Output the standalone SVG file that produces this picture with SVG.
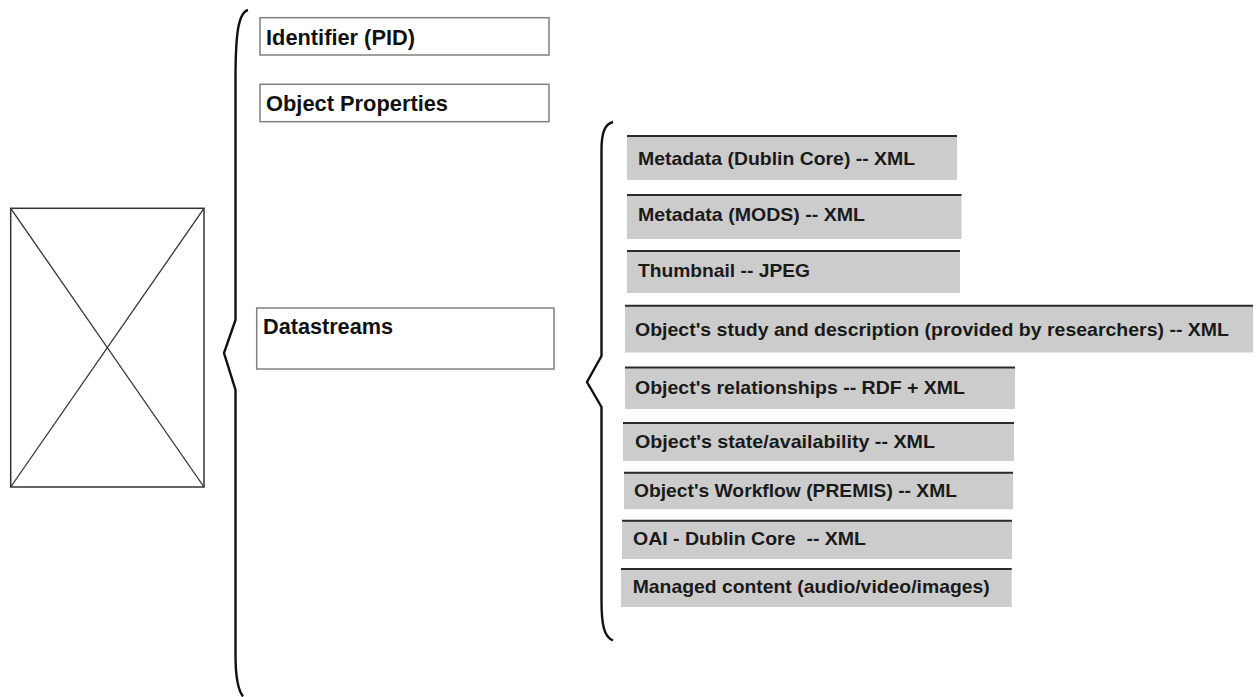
<svg xmlns="http://www.w3.org/2000/svg" width="1260" height="697" viewBox="0 0 1260 697">
<defs>
<style>
.bg{fill:#ffffff}
.brace{fill:none;stroke:#111;stroke-width:2.4;stroke-linejoin:miter}
.ph{fill:#fff;stroke:#333;stroke-width:1.5}
.phx{stroke:#333;stroke-width:1.3}
.box{fill:#fff;stroke:#808080;stroke-width:1.5}
.ds{fill:#cccccc}
.dsl{stroke:#2a2a2a;stroke-width:2}
.t1{font-family:"Liberation Sans",Arial,sans-serif;font-weight:bold;font-size:22.5px;fill:#111}
.t2{font-family:"Liberation Sans",Arial,sans-serif;font-weight:bold;font-size:18.5px;fill:#1a1a1a}
</style>
</defs>
<rect class="bg" x="0" y="0" width="1260" height="697"/>

<g id="placeholder">
<rect class="ph" x="10.7" y="208.3" width="193.3" height="278.7"/>
<line class="phx" x1="10.7" y1="208.3" x2="204" y2="487"/>
<line class="phx" x1="204" y1="208.3" x2="10.7" y2="487"/>
</g>

<g id="connectors">
<path class="brace" d="M248,10 C238,13 235.5,35 235.5,80 L235.5,320 L224,353 L235.5,390 L235.5,655 C235.5,678 238,690 243,696.5"/>
<path class="brace" d="M613,122 C605,124 601.5,132 601.5,150 L601.5,356 L587,382 L601.5,407 L601.5,600 C601.5,625 604,637 613,640.5"/>
</g>

<g id="identifier">
<rect class="box" x="260" y="17.7" width="289" height="37.3"/>
<text class="t1" x="266" y="45" textLength="149" lengthAdjust="spacingAndGlyphs">Identifier (PID)</text>
</g>

<g id="object-properties">
<rect class="box" x="260" y="84.3" width="289" height="37.4"/>
<text class="t1" x="266" y="111" textLength="182" lengthAdjust="spacingAndGlyphs">Object Properties</text>
</g>

<g id="datastreams">
<rect class="box" x="256.7" y="308" width="297.3" height="61"/>
<text class="t1" x="263" y="333.5" textLength="130" lengthAdjust="spacingAndGlyphs">Datastreams</text>
</g>

<g id="ds-dublin-core">
<rect class="ds" x="627" y="136" width="330" height="44"/>
<line class="dsl" x1="627" y1="136" x2="957" y2="136"/>
<text class="t2" x="638" y="164.5" textLength="277" lengthAdjust="spacingAndGlyphs">Metadata (Dublin Core) -- XML</text>
</g>

<g id="ds-mods">
<rect class="ds" x="627" y="195" width="334.5" height="44"/>
<line class="dsl" x1="627" y1="195" x2="961.5" y2="195"/>
<text class="t2" x="638" y="221" textLength="227" lengthAdjust="spacingAndGlyphs">Metadata (MODS) -- XML</text>
</g>

<g id="ds-thumbnail">
<rect class="ds" x="627" y="251" width="333" height="42"/>
<line class="dsl" x1="627" y1="251" x2="960" y2="251"/>
<text class="t2" x="638" y="277" textLength="172" lengthAdjust="spacingAndGlyphs">Thumbnail -- JPEG</text>
</g>

<g id="ds-study">
<rect class="ds" x="625" y="305.7" width="628" height="46.8"/>
<line class="dsl" x1="625" y1="305.7" x2="1253" y2="305.7"/>
<text class="t2" x="635" y="335.5" textLength="594" lengthAdjust="spacingAndGlyphs">Object's study and description (provided by researchers) -- XML</text>
</g>

<g id="ds-relationships">
<rect class="ds" x="625" y="367.5" width="390" height="41.5"/>
<line class="dsl" x1="625" y1="367.5" x2="1015" y2="367.5"/>
<text class="t2" x="635" y="394.3" textLength="330" lengthAdjust="spacingAndGlyphs">Object's relationships -- RDF + XML</text>
</g>

<g id="ds-state">
<rect class="ds" x="623" y="423" width="391" height="38"/>
<line class="dsl" x1="623" y1="423" x2="1014" y2="423"/>
<text class="t2" x="635" y="447.5" textLength="300" lengthAdjust="spacingAndGlyphs">Object's state/availability -- XML</text>
</g>

<g id="ds-workflow">
<rect class="ds" x="624" y="472.7" width="389" height="36.5"/>
<line class="dsl" x1="624" y1="472.7" x2="1013" y2="472.7"/>
<text class="t2" x="634" y="496.7" textLength="323" lengthAdjust="spacingAndGlyphs">Object's Workflow (PREMIS) -- XML</text>
</g>

<g id="ds-oai">
<rect class="ds" x="622" y="520.7" width="390" height="38.3"/>
<line class="dsl" x1="622" y1="520.7" x2="1012" y2="520.7"/>
<text class="t2" x="633" y="545" textLength="233" lengthAdjust="spacingAndGlyphs" style="white-space:pre">OAI - Dublin Core  -- XML</text>
</g>

<g id="ds-managed">
<rect class="ds" x="621" y="569" width="390.7" height="38"/>
<line class="dsl" x1="621" y1="569" x2="1011.7" y2="569"/>
<text class="t2" x="632.7" y="593" textLength="357" lengthAdjust="spacingAndGlyphs">Managed content (audio/video/images)</text>
</g>
</svg>
